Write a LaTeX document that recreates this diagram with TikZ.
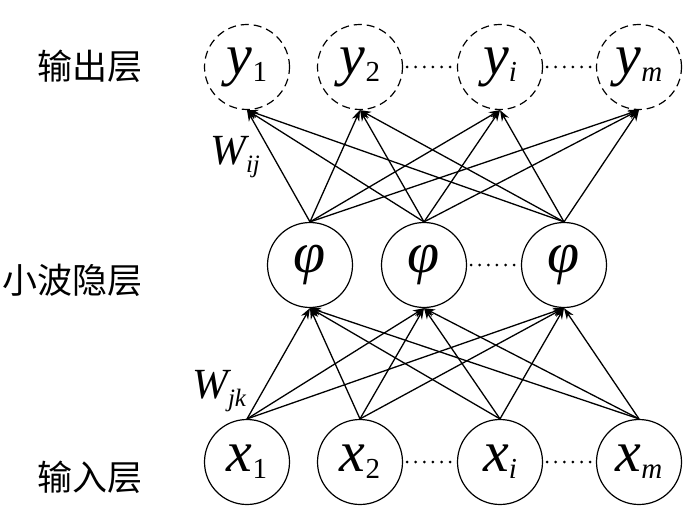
\documentclass[tikz,border=0pt]{standalone}
\usepackage{fontspec}
\setmainfont{Liberation Serif}
\newfontfamily\cjk{Noto Sans CJK SC}
\usetikzlibrary{arrows.meta}
\newcommand{\vsub}[1]{\raisebox{-7pt}{\fontsize{29}{29}\selectfont #1}}
\newcommand{\wsub}[1]{\raisebox{-8pt}{\fontsize{25}{25}\selectfont #1}}
\begin{document}
\begin{tikzpicture}[x=1pt,y=-1pt,
  neuron/.style={circle,draw,line width=1.2pt,minimum size=85pt,inner sep=0pt,
    font=\fontsize{58}{58}\selectfont\itshape},
  outn/.style={neuron,dash pattern=on 8pt off 5pt},
  conn/.style={-{Stealth[length=11pt,width=8pt]},line width=1.3pt},
  ell/.style={line width=3pt,line cap=round,dash pattern=on 0pt off 8.6pt,
    shorten <=4pt,shorten >=4pt},
  layer/.style={font=\cjk\fontsize{35}{35}\selectfont},
  wlab/.style={anchor=base west,inner sep=0pt,font=\fontsize{43}{43}\selectfont\itshape}]
\useasboundingbox (0,0) rectangle (700,518);
% output layer
\node[outn] (y1) at (247,67) {y\vsub{\upshape 1}};
\node[outn] (y2) at (360,67) {y\vsub{\upshape 2}};
\node[outn] (yi) at (500,67) {y\vsub{i}};
\node[outn] (ym) at (639,67) {y\vsub{m}};
% wavelet hidden layer
\node[neuron] (p1) at (310,265) {φ};
\node[neuron] (p2) at (424,265) {φ};
\node[neuron] (p3) at (564,265) {φ};
% input layer
\node[neuron] (x1) at (247,462) {x\vsub{\upshape 1}};
\node[neuron] (x2) at (360,462) {x\vsub{\upshape 2}};
\node[neuron] (xi) at (500,462) {x\vsub{i}};
\node[neuron] (xm) at (639,462) {x\vsub{m}};
% layer labels
\node[layer] (lo) at (90,66) {输出层};
\node[layer] (lh) at (72,280) {小波隐层};
\node[layer] (li) at (90,477) {输入层};
% weight labels
\node[wlab] (wij) at (210,165) {W\wsub{ij}};
\node[wlab] (wjk) at (192,398) {W\wsub{jk}};
% connections
\foreach \a in {p1,p2,p3}
  \foreach \b in {y1,y2,yi,ym}
    \draw[conn] (\a.north) -- (\b.south);
\foreach \a in {x1,x2,xi,xm}
  \foreach \b in {p1,p2,p3}
    \draw[conn] (\a.north) -- (\b.south);
% ellipses
\draw[ell] (y2.east) -- (yi.west);
\draw[ell] (yi.east) -- (ym.west);
\draw[ell] (p2.east) -- (p3.west);
\draw[ell] (x2.east) -- (xi.west);
\draw[ell] (xi.east) -- (xm.west);
\end{tikzpicture}
\end{document}
